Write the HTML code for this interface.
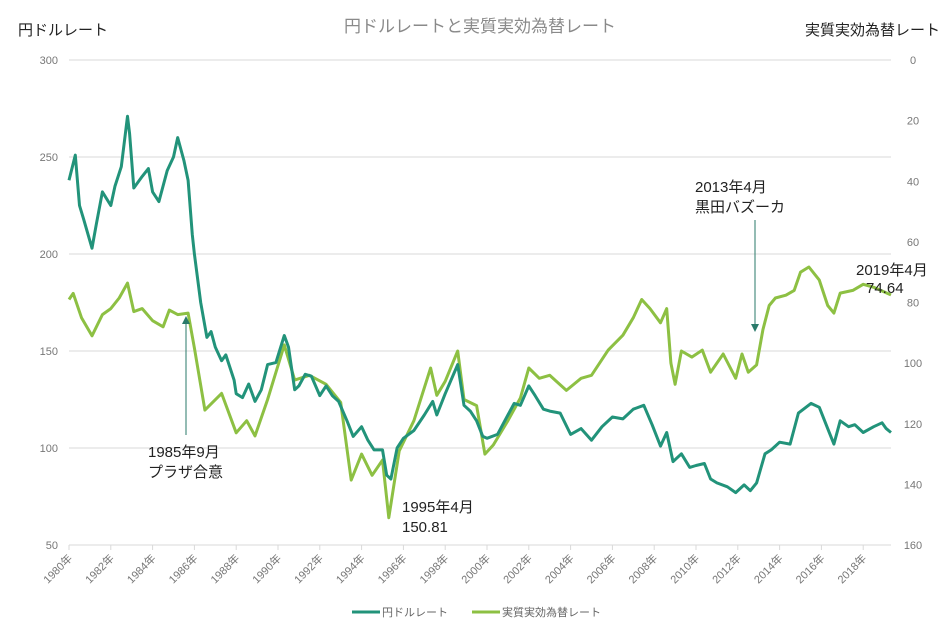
<!DOCTYPE html>
<html><head><meta charset="utf-8"><style>
html,body{margin:0;padding:0;background:#fff;}
svg{display:block;font-family:"Liberation Sans","Noto Sans CJK JP",sans-serif;}
</style></head><body>
<svg id="chart" width="947" height="625">
<text x="480" y="32" text-anchor="middle" font-size="17" fill="#8a8a8a">円ドルレートと実質実効為替レート</text>
<text x="18" y="35" font-size="15" fill="#222">円ドルレート</text>
<text x="940" y="35" text-anchor="end" font-size="15" fill="#222">実質実効為替レート</text>
<g id="grid"></g><g id="axes"></g><g id="series"></g>
<g>
<line x1="186" y1="435" x2="186" y2="322" stroke="#2a7a6a" stroke-width="1"/>
<polygon points="182,324 190,324 186,316" fill="#2a7a6a"/>
<text x="148" y="457" font-size="15" fill="#222">1985年9月</text>
<text x="148" y="477" font-size="15" fill="#222">プラザ合意</text>
</g>
<g>
<text x="402" y="512" font-size="15" fill="#222">1995年4月</text>
<text x="402" y="532" font-size="15" fill="#222">150.81</text>
</g>
<g>
<text x="695" y="192" font-size="15" fill="#222">2013年4月</text>
<text x="695" y="212" font-size="15" fill="#222">黒田バズーカ</text>
<line x1="755" y1="220" x2="755" y2="326" stroke="#2a7a6a" stroke-width="1"/>
<polygon points="751,324 759,324 755,332" fill="#2a7a6a"/>
</g>
<g>
<text x="856" y="275" font-size="15" fill="#222">2019年4月</text>
<text x="866" y="293" font-size="15" fill="#222">74.64</text>
</g>
<g>
<g><line x1="352" y1="612" x2="380" y2="612" stroke="#22937a" stroke-width="3"/><text x="382" y="616" font-size="11" fill="#666">円ドルレート</text></g>
<g><line x1="472" y1="612" x2="500" y2="612" stroke="#8dc043" stroke-width="3"/><text x="502" y="616" font-size="11" fill="#666">実質実効為替レート</text></g>
</g>
</svg>
<script>
const leftTicks=[50,100,150,200,250,300];
const rightTicks=[0,20,40,60,80,100,120,140,160];
const yearTicks=[1980,1982,1984,1986,1988,1990,1992,1994,1996,1998,2000,2002,2004,2006,2008,2010,2012,2014,2016,2018];
const usdDates=[1980.0,1980.3,1980.5,1980.7,1981.1,1981.3,1981.6,1982.0,1982.2,1982.5,1982.8,1982.9,1983.1,1983.5,1983.8,1984.0,1984.3,1984.7,1985.0,1985.2,1985.5,1985.7,1985.9,1986.0,1986.3,1986.6,1986.8,1987.0,1987.3,1987.5,1987.9,1988.0,1988.3,1988.6,1988.9,1989.2,1989.5,1989.9,1990.3,1990.5,1990.8,1991.0,1991.3,1991.6,1992.0,1992.3,1992.6,1992.9,1993.3,1993.6,1994.0,1994.3,1994.6,1995.0,1995.2,1995.4,1995.7,1996.0,1996.5,1997.0,1997.4,1997.6,1998.0,1998.6,1998.9,1999.2,1999.5,1999.8,2000.0,2000.5,2001.0,2001.3,2001.6,2002.0,2002.3,2002.7,2003.0,2003.5,2004.0,2004.5,2005.0,2005.5,2006.0,2006.5,2007.0,2007.5,2007.9,2008.3,2008.6,2008.9,2009.3,2009.7,2010.0,2010.4,2010.7,2011.0,2011.5,2011.9,2012.3,2012.6,2012.9,2013.3,2013.6,2014.0,2014.5,2014.9,2015.5,2015.9,2016.3,2016.6,2016.9,2017.3,2017.6,2018.0,2018.5,2018.9,2019.1,2019.33];
const usdValues=[238,251,225,218,203,215,232,225,235,245,271,262,234,240,244,232,227,243,250,260,248,238,210,200,175,157,160,152,145,148,135,128,126,133,124,130,143,144,158,152,130,132,138,137,127,132,127,124,114,106,111,104,99,99,86,84,100,105,109,117,124,117,128,143,122,119,114,106,105,107,117,123,122,132,127,120,119,118,107,110,104,111,116,115,120,122,112,101,108,93,97,90,91,92,84,82,80,77,81,78,82,97,99,103,102,118,123,121,110,102,114,111,112,108,111,113,110,108];
const reerDates=[1980.0,1980.2,1980.6,1981.1,1981.6,1982.0,1982.4,1982.8,1983.1,1983.5,1984.0,1984.5,1984.8,1985.2,1985.7,1986.0,1986.5,1987.3,1988.0,1988.5,1988.9,1989.5,1990.3,1990.8,1991.5,1992.3,1993.0,1993.5,1994.0,1994.5,1995.0,1995.3,1995.8,1996.5,1997.3,1997.6,1998.0,1998.6,1998.9,1999.5,1999.9,2000.3,2001.0,2001.6,2002.0,2002.5,2003.0,2003.8,2004.5,2005.0,2005.8,2006.5,2007.0,2007.4,2007.8,2008.3,2008.6,2008.8,2009.0,2009.3,2009.8,2010.3,2010.7,2011.3,2011.9,2012.2,2012.5,2012.9,2013.2,2013.5,2013.8,2014.3,2014.7,2015.0,2015.4,2015.9,2016.3,2016.6,2016.9,2017.5,2018.0,2018.5,2019.0,2019.33];
const reerValues=[79,77,85,91,84,82,78.5,73.6,83,82,86,88,82.5,84,83.5,95,115.5,110,123,119,124,112,94,105.6,104,107,113,138.6,130,137,132,151,129,119,101.6,110.6,106,96,112,114,130,127,119,111.5,101.6,105,104,109,105,104,95.7,90.8,85,79,82,86.7,82,100,107,96,98,95.7,103,97,105,97,103,100.6,89,81,78.5,77.6,76,70,68.3,72.6,81,83.5,76.9,76,74,75,76.5,77.5];
const NS='http://www.w3.org/2000/svg';
const X0=69,X1=891,Y0=60,Y1=545;
function xs(yr){return X0+(yr-1980)*(X1-X0)/(2019.33-1980);}
function yl(v){return Y1-(v-50)*(Y1-Y0)/250;}
function yr(v){return Y0+v*(Y1-Y0)/160;}
function mk(tag,attrs,parent){const e=document.createElementNS(NS,tag);for(const k in attrs)e.setAttribute(k,attrs[k]);parent.appendChild(e);return e;}
const grid=document.getElementById('grid'),axes=document.getElementById('axes'),ser=document.getElementById('series');
leftTicks.forEach(v=>{
 const l=mk('line',{x1:X0,x2:X1,y1:yl(v),y2:yl(v),stroke:'#d9d9d9','stroke-width':1},grid);
 
 
 const t=mk('text',{x:58,y:yl(v)+4,'text-anchor':'end','font-size':11,fill:'#777'},axes);
 t.textContent=v;
 
 
});
rightTicks.forEach(v=>{
 const t=mk('text',{x:913,y:yr(v)+4,'text-anchor':'middle','font-size':11,fill:'#777'},axes);
 t.textContent=v;
 
 
});
yearTicks.forEach(y=>{
 const x=xs(y);
 const tk=mk('line',{x1:x,x2:x,y1:Y1,y2:Y1+5,stroke:'#d9d9d9'},axes);
 
 
 const t=mk('text',{x:x+4,y:Y1+14,'text-anchor':'end','font-size':11,fill:'#777',transform:`rotate(-45 ${x+4} ${Y1+14})`},axes);
 t.textContent=y+'年';
 
 
});
function line(dates,vals,fy,color,name){
 const d=dates.map((t,i)=>(i?'L':'M')+xs(t).toFixed(1)+','+fy(vals[i]).toFixed(1)).join('');
 const p=mk('path',{d:d,fill:'none',stroke:color,'stroke-width':3,'stroke-linejoin':'round'},ser);
 
 
}
line(reerDates,reerValues,yr,'#8dc043','reer-line');
line(usdDates,usdValues,yl,'#22937a','usdjpy-line');
</script>
</body></html>
